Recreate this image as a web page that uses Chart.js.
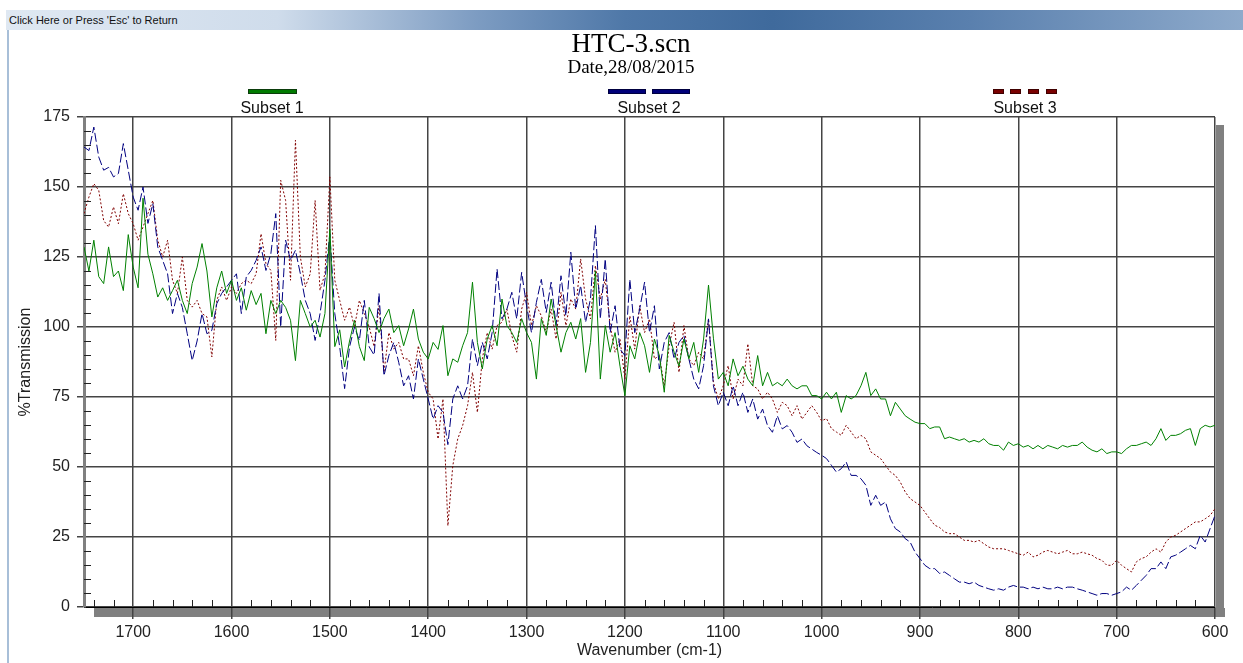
<!DOCTYPE html>
<html>
<head>
<meta charset="utf-8">
<script src="https://cdn.jsdelivr.net/npm/chart.js@4.4.1/dist/chart.umd.min.js"></script>
<style>
  body { margin: 0; background: #fff; width: 1243px; height: 663px; overflow: hidden; position: relative; }
  #bar {
    position: absolute; left: 6px; top: 10px; width: 1237px; height: 20px;
    background: linear-gradient(to right, #dfe8f2 0%, #cfdceb 22%, #7d9cc2 38%, #4f78a8 50%, #3f6a9c 62%, #5a80ae 78%, #8eaacb 100%);
    font: 11px "Liberation Sans", Arial, sans-serif; color: #111; line-height: 20px; padding-left: 3px; box-sizing: border-box;
  }
  #edge { position: absolute; left: 7px; top: 30px; width: 2px; height: 633px; background: #a8bfd8; }
  #wrap { position: absolute; left: 0; top: 0; width: 1243px; height: 663px; }
</style>
</head>
<body>
<div id="bar">Click Here or Press 'Esc' to Return</div>
<div id="edge"></div>
<div id="wrap"><canvas id="c" width="1243" height="663"></canvas></div>
<script>
// wavenumber grid (cm-1), read every 5 units
const wavenumbers = [
  1750,1745,1740,1735,1730,1725,1720,1715,1710,1705,
  1700,1695,1690,1685,1680,1675,1670,1665,1660,1655,
  1650,1645,1640,1635,1630,1625,1620,1615,1610,1605,
  1600,1595,1590,1585,1580,1575,1570,1565,1560,1555,
  1550,1545,1540,1535,1530,1525,1520,1515,1510,1505,
  1500,1495,1490,1485,1480,1475,1470,1465,1460,1455,
  1450,1445,1440,1435,1430,1425,1420,1415,1410,1405,
  1400,1395,1390,1385,1380,1375,1370,1365,1360,1355,
  1350,1345,1340,1335,1330,1325,1320,1315,1310,1305,
  1300,1295,1290,1285,1280,1275,1270,1265,1260,1255,
  1250,1245,1240,1235,1230,1225,1220,1215,1210,1205,
  1200,1195,1190,1185,1180,1175,1170,1165,1160,1155,
  1150,1145,1140,1135,1130,1125,1120,1115,1110,1105,
  1100,1095,1090,1085,1080,1075,1070,1065,1060,1055,
  1050,1045,1040,1035,1030,1025,1020,1015,1010,1005,
  1000,995,990,985,980,975,970,965,960,955,
  950,945,940,935,930,925,920,915,910,905,
  900,895,890,885,880,875,870,865,860,855,
  850,845,840,835,830,825,820,815,810,805,
  800,795,790,785,780,775,770,765,760,755,
  750,745,740,735,730,725,720,715,710,705,
  700,695,690,685,680,675,670,665,660,655,
  650,645,640,635,630,625,620,615,610,605,
  600
];

// %Transmission, Subset 1 (green)
const subset1 = [
  128.6,120,131,118,115.5,128.6,118,120,113,133,
  121.4,114,146,126,119,110.7,114,109.5,113,116.7,
  109.5,104.8,115.5,121.4,129.8,120,103.6,114,120,112,
  116.7,109.5,114,106,113,108,112,97.6,109.5,104.8,
  109.5,107,102.4,88,109.5,104.8,100,102.4,96.4,104.8,
  135,93,99,85.7,95,102.4,93,88,107,103,
  98,103,106.4,98,100.5,93.3,99.3,106.4,95.7,91,
  88.6,94.5,92,100.5,82.6,88.6,87.4,93.3,98,116,
  94.5,85,95.7,100.5,93.3,110,100.5,98,94.5,103,
  98,94.5,81.4,103,97,110,100.5,91,98,101.7,
  95.7,103,83.8,94.5,120,81.4,100.5,91,98,86,
  75.5,93.3,88.6,98,93.3,83.8,95.7,89.8,76.7,97,
  91,86,95.7,88.6,94.5,83.8,95.7,115,96,81.4,
  83.8,79,88.6,82.6,86,81.4,79,89.8,79,83.8,
  79,80.2,79,81.4,79,77.9,79,79,75.5,75.5,
  74.3,76.7,74.3,76.7,69.5,75.5,74.3,75.5,79,83.8,
  75.5,77.9,74.3,74.3,68.3,73.1,70.7,68.3,67.1,66,
  65.5,65.5,63.7,64.3,64.3,60.1,60.7,60.1,59.5,60.1,
  58.9,59.5,58.9,60.1,58.3,57.7,57.7,56,58.9,57.7,
  58.3,57.1,57.7,56.5,57.7,56.5,57.7,57.1,56.5,57.7,
  57.1,57.7,57.7,58.9,57.1,56,55.4,56.5,54.8,55.4,
  55.4,54.8,56.5,57.7,57.7,58.3,58.9,57.7,60.1,63.7,
  59.5,61.3,61.3,61.9,63.1,63.7,57.7,63.7,64.9,64.3,
  64.9
];

// %Transmission, Subset 2 (navy)
const subset2 = [
  164.3,163,171.4,160.7,156,157,153.6,154.8,165.5,156,
  146.4,141.7,150,137,144,128.6,123.8,119,104.8,112,
  107,97.6,88,95,104.8,97.6,98.8,108.3,112,114.3,
  116.7,119,104.8,117.9,120.2,123.8,128.6,120.2,126.2,140.5,
  100,131,123.8,127.4,119,109.5,104.8,95.2,104.8,116.7,
  133.3,104.8,92.9,78,92.9,100,95.2,109.5,92.9,90,
  112,82.6,89.8,94.5,87.4,79,82.6,74.3,88.6,81.4,
  74.3,67.1,71.9,69.5,58,74.3,79,74.3,79,95.7,
  86.2,94.5,88.6,98,120.7,102.9,106.4,112.4,102.9,119.5,
  107.6,98,108.8,117,105.2,116,100.5,118.3,104,126.7,
  106.4,114.8,101.7,110,136.2,102.9,124.3,98,107.6,92.1,
  89.8,117,98,106.4,116,98,107.6,85,94.5,98,
  88.6,94.5,96.9,88.6,81.4,77.9,86.2,102.9,79,71.9,
  76.7,71.9,79,71.9,76.7,69.5,74.3,67.1,70.7,64.8,
  62.4,68.3,63.6,64.8,62.4,58.8,60,57.6,56.4,55.2,
  54.2,53,50.6,48.2,49.4,51.8,47,47,45.8,43.5,
  36.3,39.9,36.3,37.5,31.5,28,26.8,24.4,23.2,19.6,
  17.3,14.9,13.7,13.7,12,12.5,11.3,10.1,8.9,8.9,
  8.3,8.9,7.7,7.1,6.5,6,6.5,6,7.1,7.7,
  7.1,7.1,6.5,7.1,6.5,7.1,6.5,6.5,7.1,6.5,
  7.1,7.1,6.5,6,5.4,4.8,4.2,4.8,4.8,4.2,
  4.8,5.4,7.1,6,7.7,9.5,11.3,13.7,13.7,16.1,
  13.7,17.9,18.5,19.6,20.8,22,20.8,25.6,23.2,28,
  32.7
];

// %Transmission, Subset 3 (dark red, dotted)
const subset3 = [
  140.5,146.4,151.2,148.8,138,135.7,142.9,136.9,147.6,140.5,
  136.9,131,135.7,140.5,145.2,131,125,131,116.7,112,
  125,109.5,107.1,109.5,104.8,103.6,89.3,109.5,114.3,109.5,
  114.3,112,115.5,116.7,115.5,119,133.3,122.6,120.2,95.2,
  152.4,145.2,116.7,166.7,125,114.3,119,145.2,113.1,119,
  153.6,116.7,109.5,102.4,107.1,100,109.5,104.8,100,93,
  107.6,83.8,98,92.1,94.5,88.6,88.6,82.6,93.3,83.8,
  76.7,74.3,60,74.3,29,50.5,60,64.8,71.9,83.8,
  69.5,88.6,98,92.1,100.5,101.7,106.4,96.9,91,106.4,
  112.4,100.5,107.6,104,98,106.4,95.7,112.4,100.5,110,
  106.4,124.3,110,102.9,121.9,110,117,100.5,91,95.7,
  81.4,104,92.1,107.6,98,102.9,88.6,89.8,79,93.3,
  101.7,83.8,100.5,88.6,86.2,91,88.6,102.9,80.2,74.3,
  79,86.2,74.3,81.4,79,94,79,77.9,74.3,76.7,
  74.3,69.5,73.1,71.9,68.3,71.9,67.1,69.5,71.9,69.5,
  66.5,67.3,63.7,62.5,61.3,64.9,62.5,60.1,61.3,60.1,
  55.4,54.2,53,50.6,48.2,47,44.6,41.1,38.7,37.5,
  36.3,33.9,31.5,29.2,28.4,26.8,26.2,26.2,25,23.8,
  23.8,23.2,23.8,22.6,21.4,20.8,20.8,20.8,20.2,19.6,
  19,18.5,19.6,17.9,18.5,19.6,20.2,19.6,19,19.6,
  20.2,19,19,19.6,19,18.5,17.3,16.7,14.9,14.9,
  16.7,14.9,13.7,12.5,16.1,17.3,17.9,19.6,20.8,19.6,
  23.2,25,25.6,26.8,28,29.2,30.4,30.4,31.5,32.7,
  35.1
];

const seriesNames = ['Subset 1', 'Subset 2', 'Subset 3'];
const titleText = 'HTC-3.scn';
const subTitleText = 'Date,28/08/2015';

const pts = (vals) => wavenumbers.map((w, i) => ({ x: w, y: vals[i] }));
const sans = '"Liberation Sans", Arial, sans-serif';

// shadow, minor ticks, title and the odd legend (sample sits above its label)
const frameDeco = {
  id: 'frameDeco',
  beforeDraw(chart) {
    const { ctx, chartArea: a } = chart;
    ctx.save();
    ctx.fillStyle = '#808080';
    ctx.fillRect(a.left + 10, a.bottom + 1, a.right - a.left, 9);
    ctx.fillRect(a.right + 1, a.top + 8, 8, a.bottom - a.top + 2);
    ctx.restore();
  },
  afterDraw(chart) {
    const { ctx, chartArea: a, scales: { x, y } } = chart;
    ctx.save();
    ctx.strokeStyle = '#222';
    ctx.lineWidth = 1;
    ctx.beginPath();
    for (let w = 620; w < 1750; w += 20) {
      if (w % 100 === 0) continue;
      const px = Math.round(x.getPixelForValue(w)) + 0.5;
      ctx.moveTo(px, a.bottom);
      ctx.lineTo(px, a.bottom - 7);
    }
    for (let v = 5; v < 175; v += 5) {
      if (v % 25 === 0) continue;
      const py = Math.round(y.getPixelForValue(v)) + 0.5;
      ctx.moveTo(a.left, py);
      ctx.lineTo(a.left + 7, py);
    }
    ctx.stroke();

    ctx.fillStyle = '#000';
    ctx.textAlign = 'center';
    ctx.textBaseline = 'alphabetic';
    ctx.font = '27px "Liberation Serif", "Times New Roman", serif';
    ctx.fillText(titleText, 631, 52);
    ctx.font = '19px "Liberation Serif", "Times New Roman", serif';
    ctx.fillText(subTitleText, 631, 73);

    // legend
    const legend = [
      { cx: 272, color: '#007a00', edge: '#0b3d0b', segs: [[248, 297]] },
      { cx: 649, color: '#00007a', edge: '#000040', segs: [[608, 646], [652, 690]] },
      { cx: 1025, color: '#7a0000', edge: '#400000', segs: [[993, 1004], [1010, 1021], [1028, 1039], [1046, 1057]] }
    ];
    legend.forEach((item, i) => {
      item.segs.forEach(([x0, x1]) => {
        ctx.fillStyle = item.color;
        ctx.fillRect(x0, 89, x1 - x0, 5);
        ctx.strokeStyle = item.edge;
        ctx.strokeRect(x0 + 0.5, 89.5, x1 - x0 - 1, 4);
      });
      ctx.fillStyle = '#111';
      ctx.font = '16px ' + sans;
      ctx.fillText(seriesNames[i], item.cx, 113);
    });
    ctx.restore();
  }
};

new Chart(document.getElementById('c'), {
  type: 'line',
  data: {
    datasets: [
      { label: seriesNames[0], data: pts(subset1), borderColor: '#008000', borderWidth: 1 },
      { label: seriesNames[1], data: pts(subset2), borderColor: '#000080', borderWidth: 1, borderDash: [9, 3] },
      { label: seriesNames[2], data: pts(subset3), borderColor: '#800000', borderWidth: 1, borderDash: [2, 2] }
    ]
  },
  options: {
    responsive: false,
    animation: false,
    devicePixelRatio: 1,
    parsing: false,
    elements: { point: { radius: 0 }, line: { tension: 0 } },
    layout: { padding: { top: 117, right: 28, left: 0, bottom: 0 } },
    plugins: {
      legend: { display: false },
      title: { display: false },
      tooltip: { enabled: false }
    },
    scales: {
      x: {
        type: 'linear',
        reverse: true,
        min: 600,
        max: 1750,
        afterFit: (s) => { s.height = 56; },
        ticks: { stepSize: 100, includeBounds: false, autoSkip: false, maxRotation: 0, padding: 4, color: '#222', font: { size: 16, family: sans }, callback: (v) => String(v) },
        grid: { color: '#444', lineWidth: 1.5, tickLength: 12 },
        border: { color: '#000', width: 1 },
        title: { display: true, text: 'Wavenumber (cm-1)', color: '#222', font: { size: 16, family: sans }, padding: { top: 0, bottom: 3 } }
      },
      y: {
        min: 0,
        max: 175,
        afterFit: (s) => { s.width = 84; },
        ticks: { stepSize: 25, padding: 7, color: '#222', font: { size: 16, family: sans } },
        grid: { color: '#444', lineWidth: 1.5, tickLength: 7 },
        border: { color: '#808080', width: 3 },
        title: { display: true, text: '%Transmission', color: '#222', font: { size: 16, family: sans }, padding: { top: 16, bottom: 0 } }
      }
    }
  },
  plugins: [frameDeco]
});
</script>
</body>
</html>
